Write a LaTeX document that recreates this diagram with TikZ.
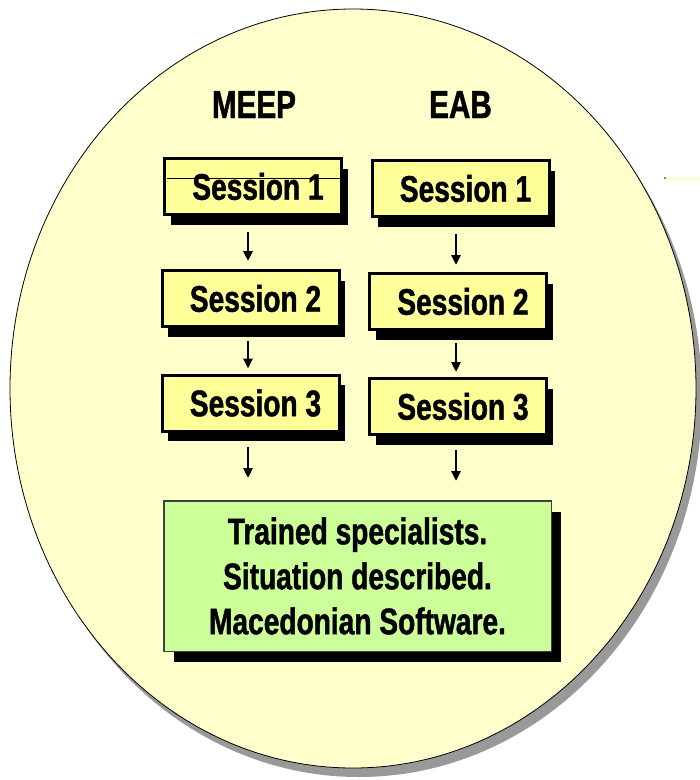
\documentclass[tikz,border=0pt]{standalone}
\usepackage{fontspec}
\newfontfamily\nar{Liberation Sans}[FakeStretch=0.76, FakeBold=1.2]
\usetikzlibrary{arrows.meta,shadows,calc}
\definecolor{ellfill}{HTML}{FFFFCC}
\definecolor{ellshadow}{HTML}{999999}
\definecolor{boxfill}{HTML}{FFFF99}
\definecolor{greenfill}{HTML}{CCFF99}
\definecolor{greenborder}{HTML}{404040}
\definecolor{paleline}{HTML}{FFFF99}
\begin{document}
\begin{tikzpicture}[x=1pt,y=-1pt,
  sessbox/.style={draw=black, line width=3pt, fill=boxfill,
    minimum width=177pt, minimum height=56pt, inner sep=0pt,
    font=\nar\bfseries\fontsize{37}{40}\selectfont,
    drop shadow={shadow xshift=6pt, shadow yshift=-10pt, fill=black, opacity=1}},
  greenbox/.style={draw=greenborder, line width=1.5pt, fill=greenfill,
    minimum width=387.5pt, minimum height=150.5pt, inner sep=0pt, align=center,
    font=\nar\bfseries\fontsize{37}{45}\selectfont,
    drop shadow={shadow xshift=10pt, shadow yshift=-11pt, fill=black, opacity=1}},
  head/.style={font=\nar\bfseries\fontsize{39}{40}\selectfont, anchor=base, inner sep=0pt},
  arr/.style={line width=2.6pt, -{Triangle[length=10pt,width=9pt]}}
]
\useasboundingbox (0,0) rectangle (700,780);
% big ellipse with shadow
\fill[ellshadow] (359,397.5) ellipse [x radius=343pt, y radius=379.5pt];
\filldraw[fill=ellfill, draw=black, line width=0.8pt] (353,388.5) ellipse [x radius=343pt, y radius=379.5pt];
% stray pale line at right
\draw[paleline, line width=1pt] (665,178) -- (700,178);
\fill[black] (665,178) circle (0.8pt);

% headings
\node[head] (hm) at (254,118) {MEEP};
\node[head] (he) at (460.5,118) {EAB};

% sessions
\node[sessbox] (m1) at (253,186.5) {\hspace*{10pt}Session 1};
\node[sessbox] (m2) at (250.5,298.5) {\hspace*{10pt}Session 2};
\node[sessbox] (m3) at (250.5,403) {\hspace*{10pt}Session 3};
\node[sessbox] (e1) at (460.5,188.5) {\hspace*{10pt}Session 1};
\node[sessbox] (e2) at (458,301.5) {\hspace*{10pt}Session 2};
\node[sessbox] (e3) at (458,406.5) {\hspace*{10pt}Session 3};
\draw[black, line width=0.8pt] (167,178) -- (342,178);

% result box
\node[greenbox] (g) at (357.5,576) {Trained specialists.\\Situation described.\\Macedonian Software.};

% arrows
\draw[arr, shorten <=16pt, shorten >=8pt] ([xshift=-5pt]m1.south) -- ([xshift=-5pt]m1.south |- m2.north);
\draw[arr, shorten <=13pt, shorten >=5pt] ([xshift=-2.5pt]m2.south) -- ([xshift=-2.5pt]m2.south |- m3.north);
\draw[arr, shorten <=14pt, shorten >=22pt] ([xshift=-2.5pt]m3.south) -- ([xshift=-2.5pt]m3.south |- g.north);
\draw[arr, shorten <=16pt, shorten >=7pt] ([xshift=-4.5pt]e1.south) -- ([xshift=-4.5pt]e1.south |- e2.north);
\draw[arr, shorten <=12pt, shorten >=5pt] ([xshift=-2pt]e2.south) -- ([xshift=-2pt]e2.south |- e3.north);
\draw[arr, shorten <=14pt, shorten >=19pt] ([xshift=-2pt]e3.south) -- ([xshift=-2pt]e3.south |- g.north);
\end{tikzpicture}
\end{document}
